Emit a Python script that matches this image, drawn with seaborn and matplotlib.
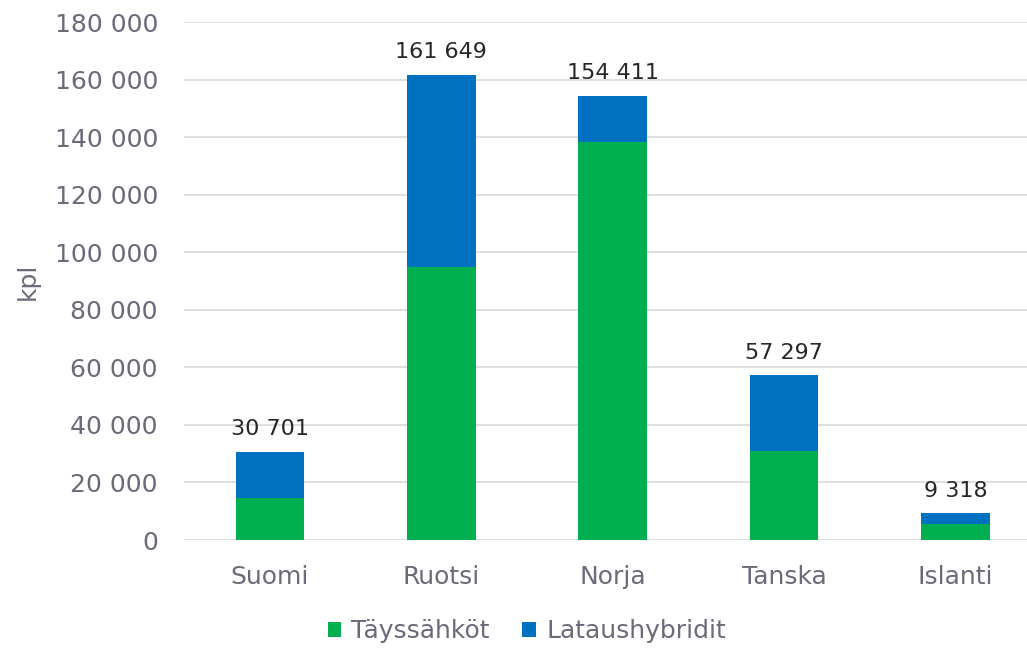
import matplotlib
matplotlib.use("Agg")
import matplotlib.pyplot as plt
import seaborn as sns
import pandas as pd
from matplotlib.patches import Patch

countries = ["Suomi", "Ruotsi", "Norja", "Tanska", "Islanti"]
totals = [30701, 161649, 154411, 57297, 9318]
bev = [14600, 95000, 138300, 31000, 5600]  # Täyssähköt
series_names = ["Täyssähköt", "Lataushybridit"]
yticks = [0, 20000, 40000, 60000, 80000, 100000, 120000, 140000, 160000, 180000]

GREEN = "#00B050"
BLUE = "#0070C0"
TXT = "#6B6A7B"
GRID = "#D9D9D9"

sns.set_theme(style="white")
plt.rcParams['font.family'] = ['DejaVu Sans']

df = pd.DataFrame({"maa": countries, "total": totals, "bev": bev})

fig = plt.figure(figsize=(10.27, 6.48), dpi=100)
ax = fig.add_axes([184.3 / 1027, 108 / 648, 1 - 184.3 / 1027, (540 - 22) / 648])

sns.barplot(data=df, x="maa", y="total", color=BLUE, saturation=1, width=0.4, ax=ax, zorder=3)
sns.barplot(data=df, x="maa", y="bev", color=GREEN, saturation=1, width=0.4, ax=ax, zorder=3)

for p in ax.patches:
    p.set_edgecolor("none")

ax.set_xlim(-0.5, 4 + (1027 - 955.5) / 171.4)
ax.set_ylim(0, 180000)
ax.set_yticks(yticks)
ax.set_yticklabels([f"{v:,}".replace(",", " ") for v in yticks])
ax.yaxis.grid(True, color=GRID, linewidth=1.2, zorder=0)
ax.set_axisbelow(True)
for s in ax.spines.values():
    s.set_visible(False)
ax.tick_params(axis="both", length=0, labelsize=18, colors=TXT)
ax.tick_params(axis="y", pad=19)
ax.tick_params(axis="x", pad=18)
ax.set_xlabel("")
ax.set_ylabel("kpl", fontsize=18, color=TXT, labelpad=10.5)

for i, t in enumerate(totals):
    ax.annotate(f"{t:,}".replace(",", " "), xy=(i, t), xytext=(0, 9),
                textcoords="offset points", ha="center", va="bottom",
                fontsize=16, color="#262626")

handles = [Patch(facecolor=GREEN, edgecolor="none"), Patch(facecolor=BLUE, edgecolor="none")]
fig.legend(handles, series_names, loc="center", bbox_to_anchor=(0.513, 0.026),
           ncol=2, frameon=False, fontsize=18, labelcolor=TXT,
           handlelength=0.55, handleheight=0.55, handletextpad=0.4, columnspacing=1.3)

fig.savefig("out.png", dpi=100)
